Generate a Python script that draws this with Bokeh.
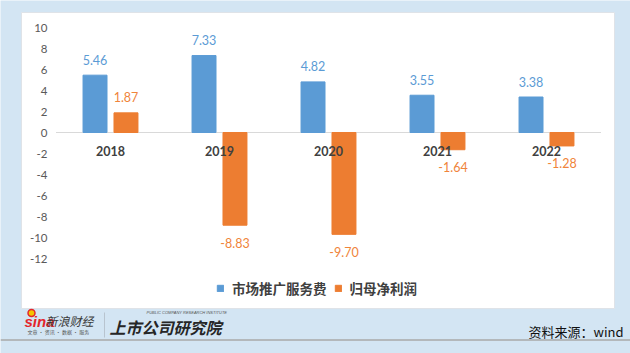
from bokeh.plotting import figure
from bokeh.models import Range1d, ColumnDataSource, Legend, LegendItem
from bokeh.core.properties import value
from bokeh.embed import file_html
from bokeh.resources import INLINE

# ---- data ----
years = ["2018", "2019", "2020", "2021", "2022"]
promo_fee = [5.46, 7.33, 4.82, 3.55, 3.38]        # 市场推广服务费
net_profit = [1.87, -8.83, -9.70, -1.64, -1.28]   # 归母净利润
y_ticks = [10, 8, 6, 4, 2, 0, -2, -4, -6, -8, -10, -12]
series_names = ["市场推广服务费", "归母净利润"]
source_note = "资料来源：wind"

BLUE = "#5b9bd5"
ORANGE = "#ed7d31"
BG = "#d3e5f3"
CJK = "Noto Sans CJK SC"
NUM = "Lato"

W, H = 630, 353
# pixel -> data helpers for layout (category spacing 109px, 10.5px per unit)
def dx(px):
    return (px - 110) / 109.0

def dy(py):
    return (132 - py) / 10.5

p = figure(width=W, height=H, output_backend="svg", toolbar_location=None,
           x_range=Range1d(dx(0), dx(W)), y_range=Range1d(dy(H), dy(0)),
           min_border=0, min_border_left=0, min_border_right=0,
           min_border_top=0, min_border_bottom=0)
p.axis.visible = False
p.grid.visible = False
p.outline_line_color = None
p.background_fill_color = BG
p.border_fill_color = BG

# white panel
p.quad(left=[dx(21)], right=[dx(614)], top=[dy(12)], bottom=[dy(308)],
       fill_color="white", line_color="#dfe3e8", line_width=1)

# zero line
p.segment(x0=[-0.5], x1=[4.5], y0=[0], y1=[0], line_color="#d9d9d9", line_width=1)

idx = list(range(len(years)))
off = 0.142
bw = 0.22
src = ColumnDataSource(dict(
    xb=[i - off for i in idx], xo=[i + off for i in idx], x=idx,
    promo=promo_fee, profit=net_profit, years=years,
    promo_lbl=[f"{v:.2f}" for v in promo_fee],
    profit_lbl=[f"{v:.2f}" for v in net_profit],
))

rb = p.vbar(x="xb", top="promo", bottom=0, width=bw, source=src,
            fill_color=BLUE, line_color=BLUE)
ro = p.vbar(x="xo", top="profit", bottom=0, width=bw, source=src,
            fill_color=ORANGE, line_color=ORANGE)

# value labels
for xs, vals, col in (("xb", promo_fee, "#5b9bd5"), ("xo", net_profit, "#f0843a")):
    pos = [i for i, v in enumerate(vals) if v >= 0]
    neg = [i for i, v in enumerate(vals) if v < 0]
    for group, yoff in ((pos, -15.5), (neg, 17.5)):
        if not group:
            continue
        s = ColumnDataSource(dict(
            x=[src.data[xs][i] for i in group],
            y=[vals[i] for i in group],
            t=[f"{vals[i]:.2f}" for i in group]))
        p.text(x="x", y="y", text="t", source=s, text_align="center",
               text_baseline="middle", y_offset=yoff, text_color=col,
               text_font=value(NUM), text_font_size="12.5px")

# category labels
p.text(x="x", y=0, text="years", source=src, text_align="center",
       text_baseline="middle", y_offset=18, text_color="#404040",
       text_font=value(NUM), text_font_size="12.5px", text_font_style="bold")

# y tick labels
p.text(x=[dx(47)] * len(y_ticks), y=y_ticks, text=[str(t) for t in y_ticks],
       text_align="right", text_baseline="middle", text_color="#595959",
       text_font=value(NUM), text_font_size="11.5px")

# legend
legend = Legend(items=[LegendItem(label=series_names[0], renderers=[rb]),
                       LegendItem(label=series_names[1], renderers=[ro])],
                orientation="horizontal", location=(216, 55),
                glyph_width=8, glyph_height=8, label_standoff=8, spacing=7,
                padding=0, margin=0, border_line_color=None,
                background_fill_alpha=0, label_text_font=CJK,
                label_text_font_size="13.5px", label_text_font_style="bold",
                label_text_color="#404040", label_height=14)
p.add_layout(legend, "center")

# footer
p.segment(x0=[dx(0)], x1=[dx(W)], y0=[dy(339.5)], y1=[dy(339.5)],
          line_color="#a8a8a8", line_width=1.5)
p.text(x=[dx(24)], y=[dy(321)], text=["sina"], text_baseline="middle",
       text_color="#e3262d", text_font=value("Liberation Sans"),
       text_font_size="15px", text_font_style="bold italic")
p.ellipse(x=[dx(31)], y=[dy(312.5)], width=[dx(38) - dx(31)], height=[dy(309) - dy(316)],
          fill_color="#f4c400", line_color="#e3262d", line_width=1.5)
p.text(x=[dx(45)], y=[dy(320)], text=["新浪财经"], text_baseline="middle",
       text_color="#3a3a3a", text_font=value(CJK), text_font_size="12px",
       text_font_style="italic")
p.text(x=[dx(27)], y=[dy(330.5)], text=["文章 · 资讯 · 数据 · 服务"], text_baseline="middle",
       text_color="#555555", text_font=value(CJK), text_font_size="5px")
p.segment(x0=[dx(104)], x1=[dx(104)], y0=[dy(312)], y1=[dy(337)],
          line_color="#b8c4cf", line_width=1)
p.text(x=[dx(109)], y=[dy(326)], text=["上市公司研究院"], text_baseline="middle",
       text_color="#262626", text_font=value(CJK), text_font_size="16px",
       text_font_style="bold italic")
p.text(x=[dx(146)], y=[dy(311.5)], text=["PUBLIC COMPANY RESEARCH INSTITUTE"],
       text_baseline="middle", text_color="#555555", text_font=value("Liberation Sans"),
       text_font_size="4px", text_font_style="italic")
p.text(x=[dx(623)], y=[dy(331)], text=[source_note], text_align="right",
       text_baseline="middle", text_color="#111111", text_font=value(CJK),
       text_font_size="13px")

open("out.html", "w").write(file_html(p, INLINE))
